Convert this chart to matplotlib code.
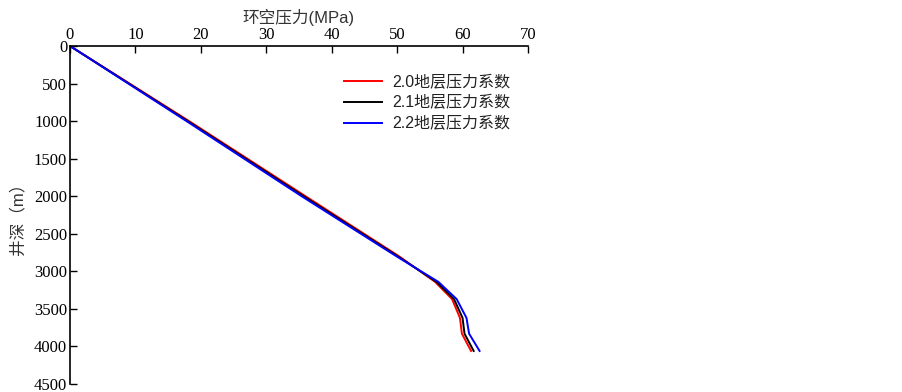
import matplotlib
matplotlib.use('Agg')
import matplotlib.pyplot as plt

# depth (m)
depth = [0, 1000, 2000, 2800, 3140, 3370, 3620, 3830, 4060]
# annular pressure (MPa) for each formation pressure coefficient
p_20 = [0, 18.2, 36.0, 50.3, 55.8, 58.4, 59.6, 59.9, 61.3]
p_21 = [0, 18.0, 35.7, 50.1, 56.0, 58.7, 60.0, 60.3, 61.7]
p_22 = [0, 17.8, 35.4, 49.9, 56.3, 59.1, 60.6, 61.0, 62.6]
labels = ['2.0地层压力系数', '2.1地层压力系数', '2.2地层压力系数']
colors = ['#ff0000', '#000000', '#0000ff']

xticks = [0, 10, 20, 30, 40, 50, 60, 70]
yticks = [0, 500, 1000, 1500, 2000, 2500, 3000, 3500, 4000, 4500]

plt.rcParams['font.family'] = ['Liberation Serif', 'DejaVu Serif']
sans_cjk = ['Liberation Sans', 'Noto Sans CJK SC', 'DejaVu Sans']

fig = plt.figure(figsize=(9.03, 3.92), dpi=100)
ax = fig.add_axes([0.0775, 0.0204, 0.5072, 0.8623])

for p, lab, c in zip([p_20, p_21, p_22], labels, colors):
    ax.plot(p, depth, color=c, lw=1.4, label=lab)

ax.set_xlim(0, 70)
ax.set_ylim(4500, 0)
ax.xaxis.tick_top()
ax.xaxis.set_label_position('top')
ax.set_xticks(xticks)
ax.set_yticks(yticks)
ax.tick_params(direction='in', length=5, width=1, labelsize=12, pad=2)
ax.spines['right'].set_visible(False)
ax.spines['bottom'].set_visible(False)
for s in ['left', 'top']:
    ax.spines[s].set_linewidth(1.2)

ax.set_xlabel('环空压力(MPa)', family=sans_cjk, fontsize=12, labelpad=3, color='#333333')
ax.set_ylabel('井深（m）', family=sans_cjk, fontsize=12, labelpad=6, color='#333333')

leg = ax.legend(loc='upper left', bbox_to_anchor=(0.566, 0.958), frameon=False,
                prop={'family': sans_cjk, 'size': 11.5}, handlelength=2.4,
                labelspacing=0.36, handletextpad=0.65)
for t in leg.get_texts():
    t.set_color('#222222')

fig.savefig('out.png', dpi=100)
